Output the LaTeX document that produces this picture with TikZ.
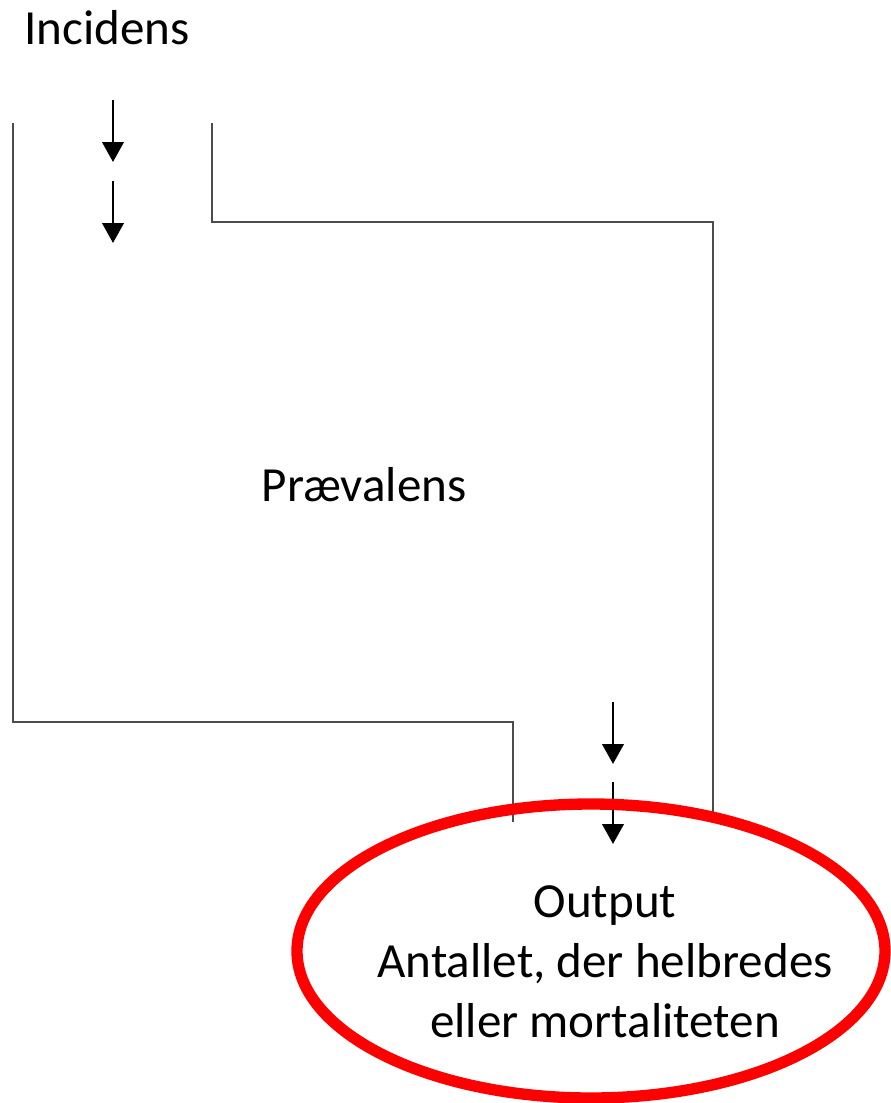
\documentclass[tikz,border=0pt]{standalone}
\usepackage{fontspec}
\setmainfont{Carlito}
\usetikzlibrary{arrows.meta,shapes.geometric}
\tikzset{
  wall/.style={draw=black!70, line width=1.6pt},
  flow/.style={-{Triangle[width=16pt,length=15pt]}, line width=2.2pt},
  lbl/.style={font=\fontsize{36.8}{45}\selectfont, align=center, inner sep=0pt},
}
\begin{document}
\begin{tikzpicture}[x=0.75pt,y=-0.75pt]
  \useasboundingbox (0,0) rectangle (891,1103);
  \node[lbl] (incidens) at (107,28) {Incidens};
  \node[lbl] (praevalens) at (364,485) {Prævalens};
  \draw[wall] (13,123) -- (13,722) -- (513,722) -- (513,822);
  \draw[wall] (212,123) -- (212,222) -- (713,222) -- (713,822);
  \foreach \n/\x/\y in {a/113/100, b/113/181, c/613/702, d/613/782} {
    \coordinate (\n0) at (\x,\y);
    \coordinate (\n1) at (\x,\y+62);
    \draw[flow] (\n0) -- (\n1);
  }
  \node[ellipse, draw=red, line width=8.5pt, inner sep=0pt, minimum width=441pt, minimum height=220.5pt] (output) at (591,951) {};
  \node[lbl] (outtext) at (605,962) {Output\\Antallet, der helbredes\\eller mortaliteten};
\end{tikzpicture}
\end{document}
